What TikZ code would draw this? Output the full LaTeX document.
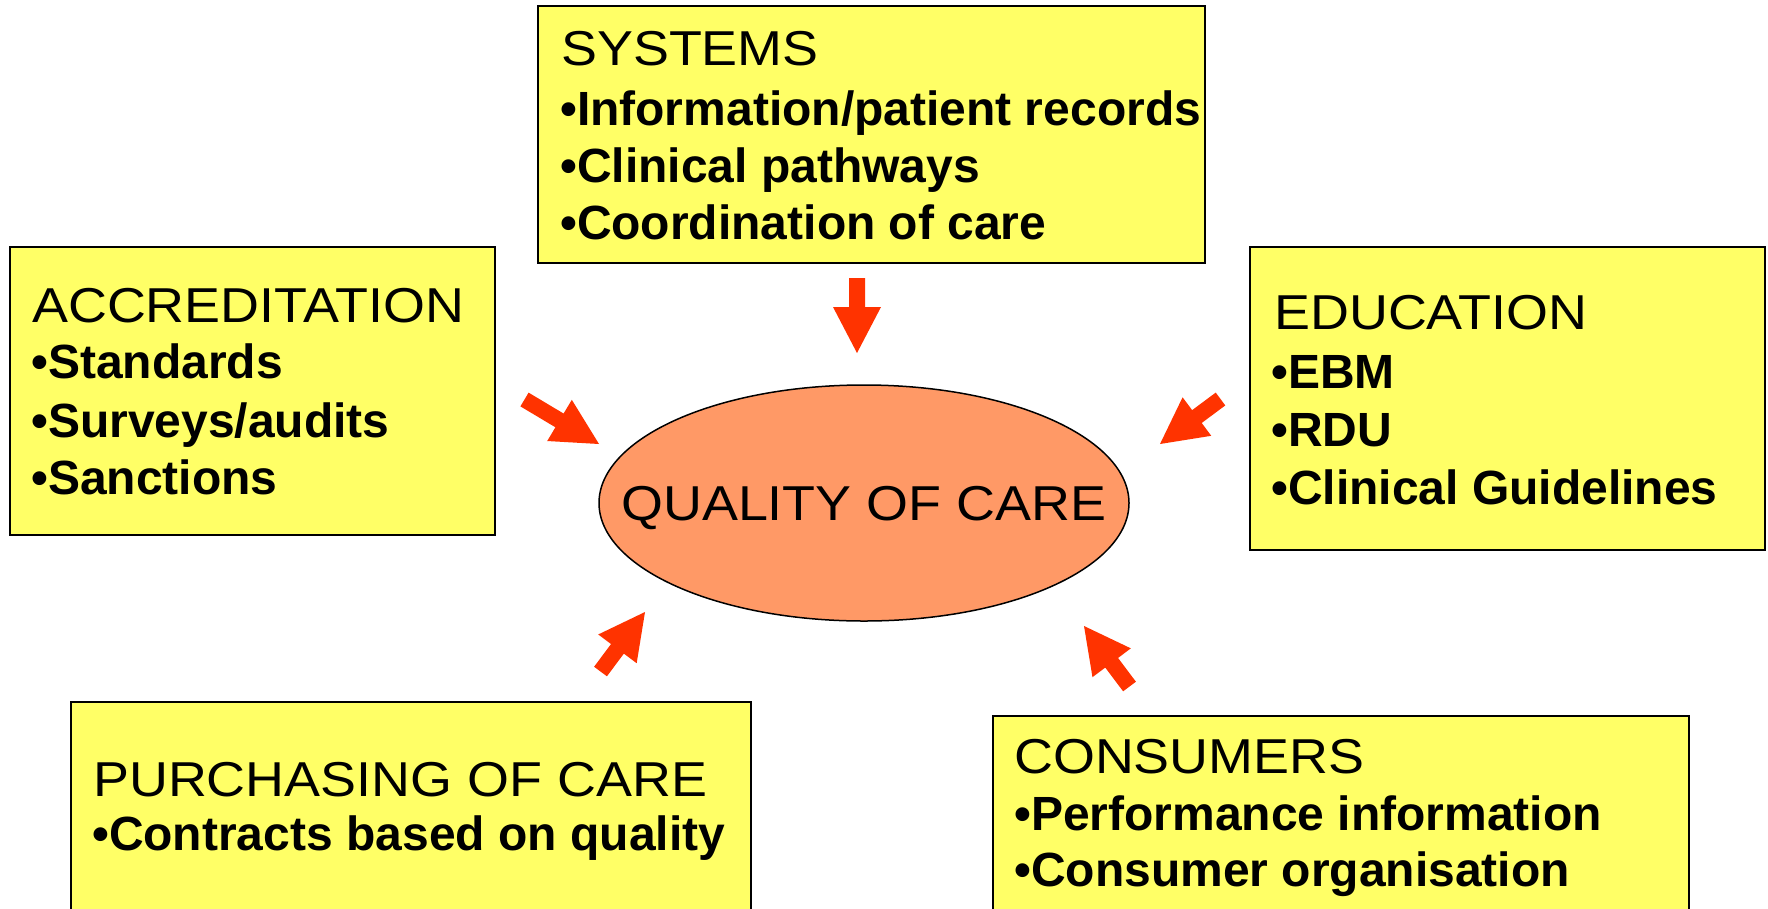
\documentclass[tikz,border=0pt]{standalone}
\usepackage{fontspec}
\setmainfont{Liberation Sans}
\newfontfamily\headfont[FakeStretch=1.1]{Liberation Sans}
\usetikzlibrary{calc,shapes.geometric}

\definecolor{boxyellow}{HTML}{FFFF66}
\definecolor{careorange}{HTML}{FF9966}
\definecolor{arrowred}{HTML}{FF3300}

% block arrow from a tail coordinate to a tip coordinate
\newcommand\blockarrow[2]{%
  \coordinate (#1-hb) at ($(#2)!46pt!(#1)$);
  \fill[arrowred]
    ($(#1)!8pt!90:(#2)$) -- ($(#1-hb)!8pt!90:(#2)$) -- ($(#1-hb)!24pt!90:(#2)$)
    -- (#2)
    -- ($(#1-hb)!24pt!-90:(#2)$) -- ($(#1-hb)!8pt!-90:(#2)$) -- ($(#1)!8pt!-90:(#2)$)
    -- cycle;}

\tikzset{
  panel/.style={draw=black, line width=1.5pt, fill=boxyellow, inner sep=0pt},
  head/.style={anchor=base west, inner sep=0pt, font=\headfont\fontsize{49}{59}\selectfont},
  item/.style={anchor=base west, inner sep=0pt, font=\bfseries\fontsize{48}{57}\selectfont},
}

\begin{document}
\begin{tikzpicture}[x=1pt, y=-1pt]
\useasboundingbox (0,0) rectangle (1768,908);
\clip (0,0) rectangle (1768,908);
\fill[white] (0,0) rectangle (1768,908);

% panels
\node[panel, minimum width=667pt, minimum height=257pt] (sys) at (871.5,134.5) {};
\node[panel, minimum width=485pt, minimum height=288pt] (acc) at (252.5,391) {};
\node[panel, minimum width=515pt, minimum height=303pt] (edu) at (1507.5,398.5) {};
\node[panel, minimum width=680pt, minimum height=228pt] (pur) at (411,816) {};
\node[panel, minimum width=696pt, minimum height=214pt] (con) at (1341,823) {};

% central ellipse
\node[ellipse, draw=black, line width=1.5pt, fill=careorange,
      minimum width=530pt, minimum height=236pt, inner sep=0pt] (care) at (864,503) {};
\node[head] (caretext) at (621,520) {QUALITY OF CARE};

% SYSTEMS
\node[head] (sys0) at (561,65) {SYSTEMS};
\node[item] (sys1) at (560,125) {•Information/patient records};
\node[item] (sys2) at (560,182) {•Clinical pathways};
\node[item] (sys3) at (560,239) {•Coordination of care};

% ACCREDITATION
\node[head] (acc0) at (32,322) {ACCREDITATION};
\node[item] (acc1) at (31,378) {•Standards};
\node[item] (acc2) at (31,437) {•Surveys/audits};
\node[item] (acc3) at (31,494) {•Sanctions};

% EDUCATION
\node[head] (edu0) at (1274,329) {EDUCATION};
\node[item] (edu1) at (1271,388) {•EBM};
\node[item] (edu2) at (1271,446) {•RDU};
\node[item] (edu3) at (1271,504) {•Clinical Guidelines};

% PURCHASING OF CARE
\node[head] (pur0) at (93,796) {PURCHASING OF CARE};
\node[item] (pur1) at (92,850) {•Contracts based on quality};

% CONSUMERS
\node[head] (con0) at (1014,773) {CONSUMERS};
\node[item] (con1) at (1014,830) {•Performance information};
\node[item] (con2) at (1014,886) {•Consumer organisation};

% arrows towards the ellipse
\coordinate (tS) at (857,278);    \coordinate (hS) at (857,353);
\coordinate (tA) at (524.5,399.5); \coordinate (hA) at (599,444);
\coordinate (tE) at (1220.5,399);  \coordinate (hE) at (1160,444);
\coordinate (tP) at (600.5,671.5); \coordinate (hP) at (645,612);
\coordinate (tC) at (1129.5,686.5); \coordinate (hC) at (1084,626);
\blockarrow{tS}{hS}
\blockarrow{tA}{hA}
\blockarrow{tE}{hE}
\blockarrow{tP}{hP}
\blockarrow{tC}{hC}
\end{tikzpicture}
\end{document}
